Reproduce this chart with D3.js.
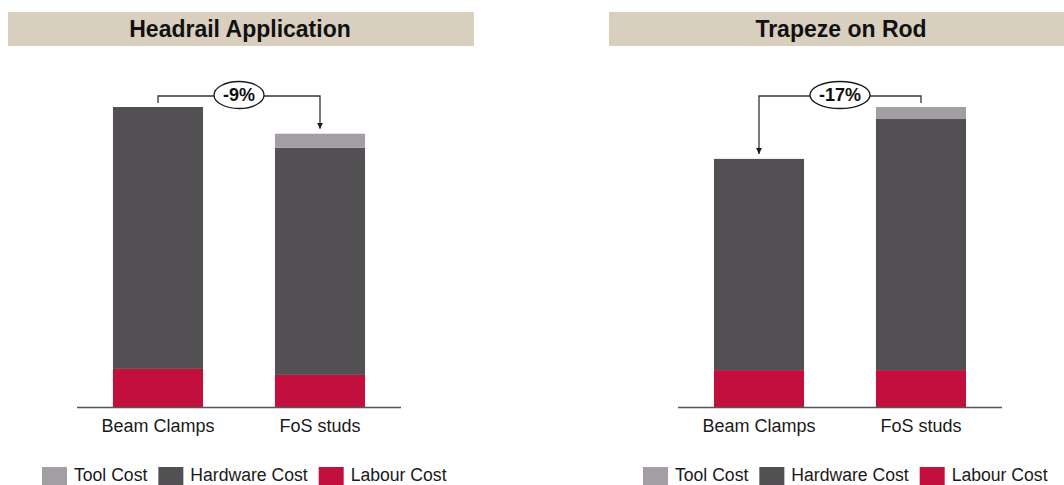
<!DOCTYPE html>
<html>
<head>
<meta charset="utf-8">
<script src="https://cdn.jsdelivr.net/npm/d3@7"></script>
<style>
  html, body { margin: 0; padding: 0; background: #fff; }
  svg { display: block; font-family: "Liberation Sans", Arial, sans-serif; }
</style>
</head>
<body>
<div class="chart"></div>
<script>
// Chart data (cost index, taller bar = 100)
const categories = ["Beam Clamps", "FoS studs"];
const seriesNames = ["Tool Cost", "Hardware Cost", "Labour Cost"];
const panelTitles = ["Headrail Application", "Trapeze on Rod"];
const deltaLabels = ["-9%", "-17%"];

const headrailLabour = [12.7, 10.7];
const headrailHardware = [87.3, 75.7];
const headrailTool = [0, 4.7];

const trapezeLabour = [12.3, 12.3];
const trapezeHardware = [70.4, 83.7];
const trapezeTool = [0, 4.0];

const colors = { "Tool Cost": "#a29ea3", "Hardware Cost": "#525053", "Labour Cost": "#c30f3e" };

// Build one table per panel for d3.stack
function buildRows(labour, hardware, tool) {
  return categories.map((c, i) => ({
    category: c,
    "Labour Cost": labour[i],
    "Hardware Cost": hardware[i],
    "Tool Cost": tool[i]
  }));
}
const panels = [
  { title: panelTitles[0], delta: deltaLabels[0], rows: buildRows(headrailLabour, headrailHardware, headrailTool), offset: 0 },
  { title: panelTitles[1], delta: deltaLabels[1], rows: buildRows(trapezeLabour, trapezeHardware, trapezeTool), offset: 601 }
];

const W = 1064, H = 485;
const svg = d3.select(".chart").append("svg")
  .attr("width", W)
  .attr("height", H);

// arrow marker for the comparison bracket
svg.append("defs").append("marker")
  .attr("id", "arrow")
  .attr("viewBox", "0 0 10 10")
  .attr("refX", 10).attr("refY", 5)
  .attr("markerWidth", 6).attr("markerHeight", 6)
  .attr("markerUnits", "userSpaceOnUse")
  .attr("orient", "auto")
  .append("path")
  .attr("d", "M0,0L10,5L0,10Z")
  .attr("fill", "#1a1a1a");

const stack = d3.stack().keys(["Labour Cost", "Hardware Cost", "Tool Cost"]);

const y = d3.scaleLinear().domain([0, 100]).range([407, 107]);

panels.forEach(p => {
  const g = svg.append("g").attr("transform", `translate(${p.offset},0)`);

  // title band
  g.append("rect")
    .attr("x", 8).attr("y", 12)
    .attr("width", 466).attr("height", 34)
    .attr("fill", "#d9cfbf");
  g.append("text")
    .attr("x", 240).attr("y", 37)
    .attr("text-anchor", "middle")
    .attr("font-size", 23)
    .attr("font-weight", "bold")
    .attr("fill", "#111")
    .text(p.title);

  const x = d3.scaleBand()
    .domain(categories)
    .range([77, 401])
    .paddingInner(0.444)
    .paddingOuter(0.222);

  // stacked bars
  const layers = stack(p.rows);
  g.selectAll("g.layer")
    .data(layers)
    .join("g")
    .attr("class", "layer")
    .attr("fill", d => colors[d.key])
    .selectAll("rect")
    .data(d => d)
    .join("rect")
    .attr("x", d => x(d.data.category))
    .attr("y", d => y(d[1]))
    .attr("width", x.bandwidth())
    .attr("height", d => y(d[0]) - y(d[1]));

  // baseline axis
  const axis = g.append("g")
    .attr("transform", `translate(0,${y(0)})`)
    .call(d3.axisBottom(x).tickSize(0).tickPadding(12));
  axis.select(".domain")
    .attr("d", "M77,0.5H401")
    .attr("stroke", "#555")
    .attr("stroke-width", 1.6);
  axis.selectAll(".tick text")
    .attr("font-family", "Liberation Sans, Arial, sans-serif")
    .attr("font-size", 18)
    .attr("fill", "#1a1a1a");

  // comparison bracket: from taller bar to shorter bar
  const totals = p.rows.map(r => r["Labour Cost"] + r["Hardware Cost"] + r["Tool Cost"]);
  const hi = totals[0] >= totals[1] ? 0 : 1;
  const lo = 1 - hi;
  const xHi = x(categories[hi]) + x.bandwidth() / 2;
  const xLo = x(categories[lo]) + x.bandwidth() / 2;
  const lineY = y(d3.max(totals)) - 11;
  g.append("path")
    .attr("d", `M${xHi},${y(totals[hi]) - 4}V${lineY}H${xLo}V${y(totals[lo]) - 5}`)
    .attr("fill", "none")
    .attr("stroke", "#333")
    .attr("stroke-width", 1.3)
    .attr("marker-end", "url(#arrow)");

  const cx = (xHi + xLo) / 2;
  const ell = g.append("ellipse")
    .attr("cx", cx).attr("cy", lineY - 1)
    .attr("ry", 13.5)
    .attr("fill", "#fff")
    .attr("stroke", "#1a1a1a")
    .attr("stroke-width", 1.3);
  const lbl = g.append("text")
    .attr("x", cx).attr("y", lineY + 5)
    .attr("text-anchor", "middle")
    .attr("font-size", 18)
    .attr("font-weight", "bold")
    .attr("fill", "#111")
    .text(p.delta);
  ell.attr("rx", lbl.node().getComputedTextLength() / 2 + 9);

  // legend
  let lx = 42;
  seriesNames.forEach(name => {
    g.append("rect")
      .attr("x", lx).attr("y", 467)
      .attr("width", 25).attr("height", 20)
      .attr("fill", colors[name]);
    const t = g.append("text")
      .attr("x", lx + 32).attr("y", 481)
      .attr("font-size", 17.6)
      .attr("fill", "#1a1a1a")
      .text(name);
    lx += 32 + t.node().getComputedTextLength() + 11;
  });
});
</script>
</body>
</html>
